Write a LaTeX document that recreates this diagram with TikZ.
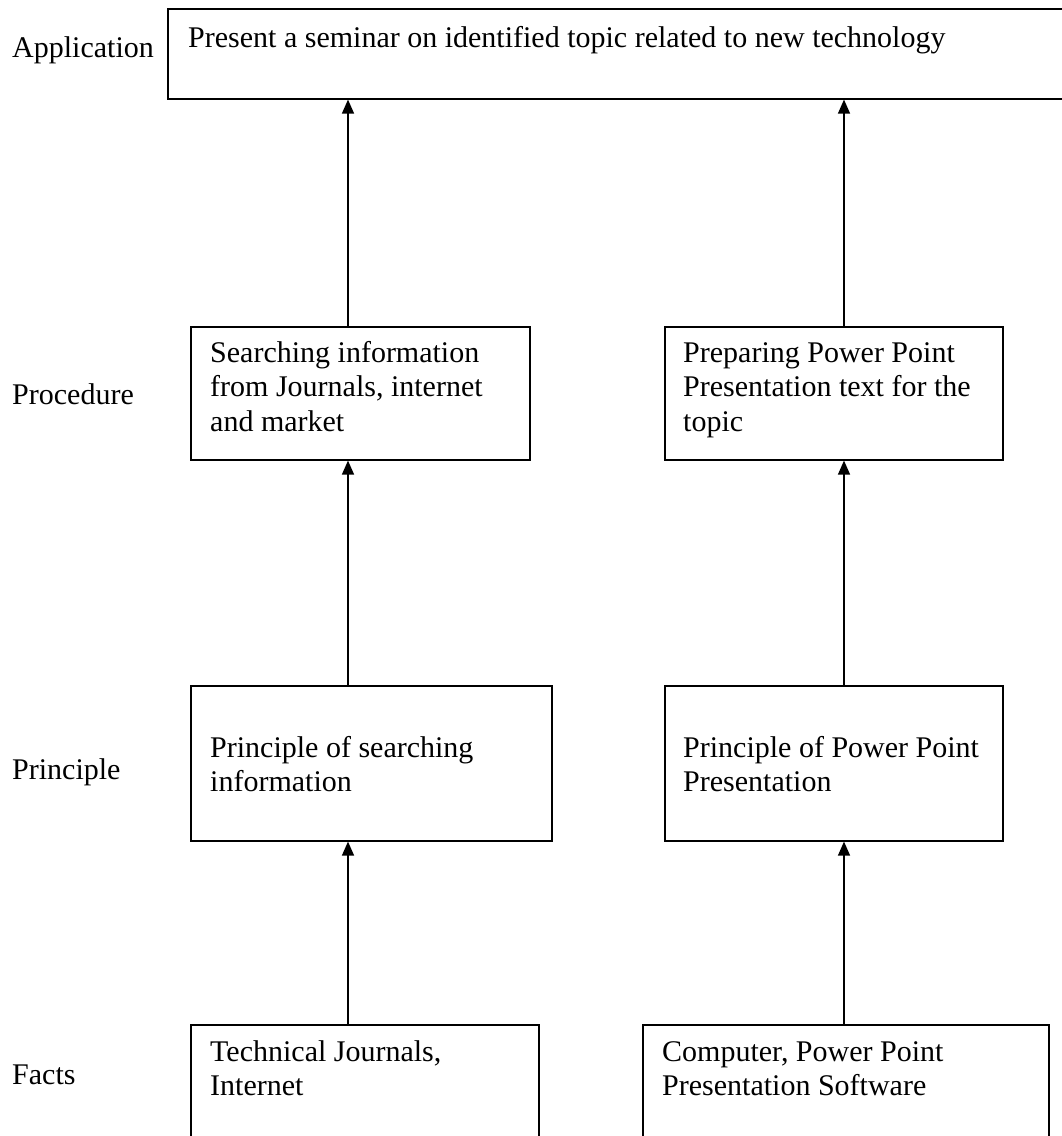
\documentclass[tikz,border=0pt]{standalone}
\usepackage{fontspec}
\setmainfont{Liberation Serif}
\usetikzlibrary{arrows.meta}
\begin{document}
\begin{tikzpicture}[x=1pt,y=-1pt,
  box/.style={draw, line width=1.6pt, rectangle, inner sep=0pt, anchor=north west},
  txt/.style={anchor=base west, inner sep=0pt, font=\fontsize{30}{34.5}\selectfont},
  arr/.style={line width=1.4pt, -{Triangle[width=12pt,length=14pt]}}]
\useasboundingbox (0,0) rectangle (1061,1136);
\fill[white] (0,0) rectangle (1061,1136);
% boxes
\node[box, minimum width=897pt, minimum height=90pt] (app) at (167,8) {};
\node[box, minimum width=339pt, minimum height=133pt] (procL) at (190,326) {};
\node[box, minimum width=338pt, minimum height=133pt] (procR) at (664,326) {};
\node[box, minimum width=361pt, minimum height=155pt] (prinL) at (190,685) {};
\node[box, minimum width=338pt, minimum height=155pt] (prinR) at (664,685) {};
\node[box, minimum width=348pt, minimum height=121pt] (factL) at (190,1024) {};
\node[box, minimum width=406pt, minimum height=121pt] (factR) at (642,1024) {};
% texts
\node[txt] (tapp) at (188,47) {Present a seminar on identified topic related to new technology};
\node[txt] (tprocL) at (210,362) {\begin{tabular}[t]{@{}l@{}}Searching information\\from Journals, internet\\and market\end{tabular}};
\node[txt] (tprocR) at (683,362) {\begin{tabular}[t]{@{}l@{}}Preparing Power Point\\Presentation text for the\\topic\end{tabular}};
\node[txt] (tprinL) at (210,757) {\begin{tabular}[t]{@{}l@{}}Principle of searching\\information\end{tabular}};
\node[txt] (tprinR) at (683,757) {\begin{tabular}[t]{@{}l@{}}Principle of Power Point\\Presentation\end{tabular}};
\node[txt] (tfactL) at (210,1061) {\begin{tabular}[t]{@{}l@{}}Technical Journals,\\Internet\end{tabular}};
\node[txt] (tfactR) at (662,1061) {\begin{tabular}[t]{@{}l@{}}Computer, Power Point\\Presentation Software\end{tabular}};
% level labels
\node[txt] (lapp) at (12,57) {Application};
\node[txt] (lproc) at (12,404) {Procedure};
\node[txt] (lprin) at (12,779) {Principle};
\node[txt] (lfact) at (12,1084) {Facts};
% connectors
\coordinate (colL) at (348,0);
\coordinate (colR) at (844,0);
\draw[arr] (factL.north -| colL) -- (prinL.south -| colL);
\draw[arr] (prinL.north -| colL) -- (procL.south -| colL);
\draw[arr] (procL.north -| colL) -- (app.south -| colL);
\draw[arr] (factR.north -| colR) -- (prinR.south -| colR);
\draw[arr] (prinR.north -| colR) -- (procR.south -| colR);
\draw[arr] (procR.north -| colR) -- (app.south -| colR);
\end{tikzpicture}
\end{document}
